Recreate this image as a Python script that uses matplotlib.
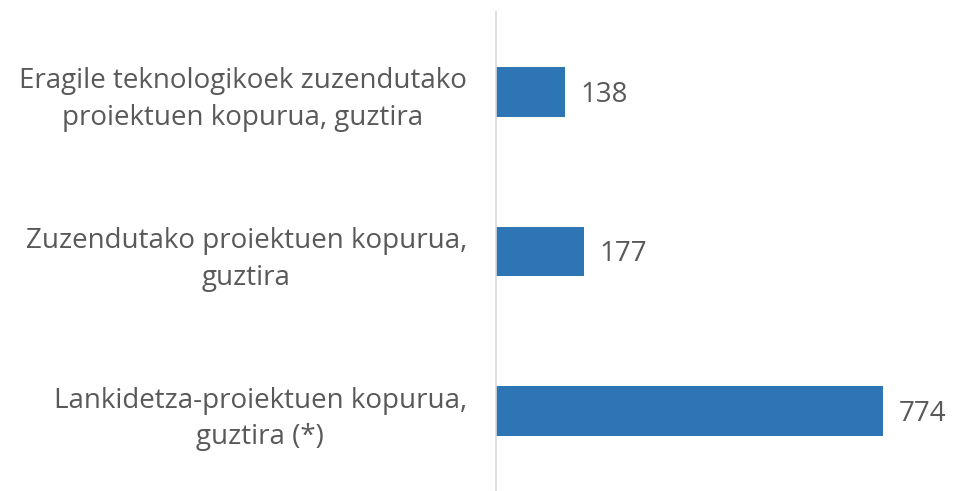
import matplotlib
matplotlib.use("Agg")
from matplotlib import pyplot as plt

# data (top to bottom)
categories = [
    "Eragile teknologikoek zuzendutako\nproiektuen kopurua, guztira",
    "Zuzendutako proiektuen kopurua,\nguztira",
    "Lankidetza-proiektuen kopurua,\nguztira (*)",
]
values = [138, 177, 774]

bar_color = "#2E75B6"
text_color = "#595959"

plt.rcParams["font.family"] = ["Open Sans", "DejaVu Sans"]

fig = plt.figure(figsize=(9.54, 4.91), dpi=100)
ax = fig.add_axes([496 / 954, 0.0, 450 / 954, 479 / 491])

pos = list(range(len(categories)))
ax.barh(pos, values, height=0.31, color=bar_color)

# value labels just right of each bar
for p, v in zip(pos, values):
    ax.annotate(str(v), xy=(v, p), xytext=(11, -2), textcoords="offset points",
                ha="left", va="center", fontsize=20, color=text_color)

ax.set_xlim(0, 900)
ax.set_ylim(2.5, -0.5)
ax.set_yticks(pos)
ax.set_yticklabels(categories, fontsize=20, color=text_color,
                   multialignment="center", linespacing=1.42)
ax.tick_params(axis="y", length=0, pad=21)
ax.set_xticks([])

for side in ["top", "right", "bottom"]:
    ax.spines[side].set_visible(False)
ax.spines["left"].set_color("#D9D9D9")
ax.spines["left"].set_linewidth(1.2)

fig.savefig("out.png", dpi=100)
